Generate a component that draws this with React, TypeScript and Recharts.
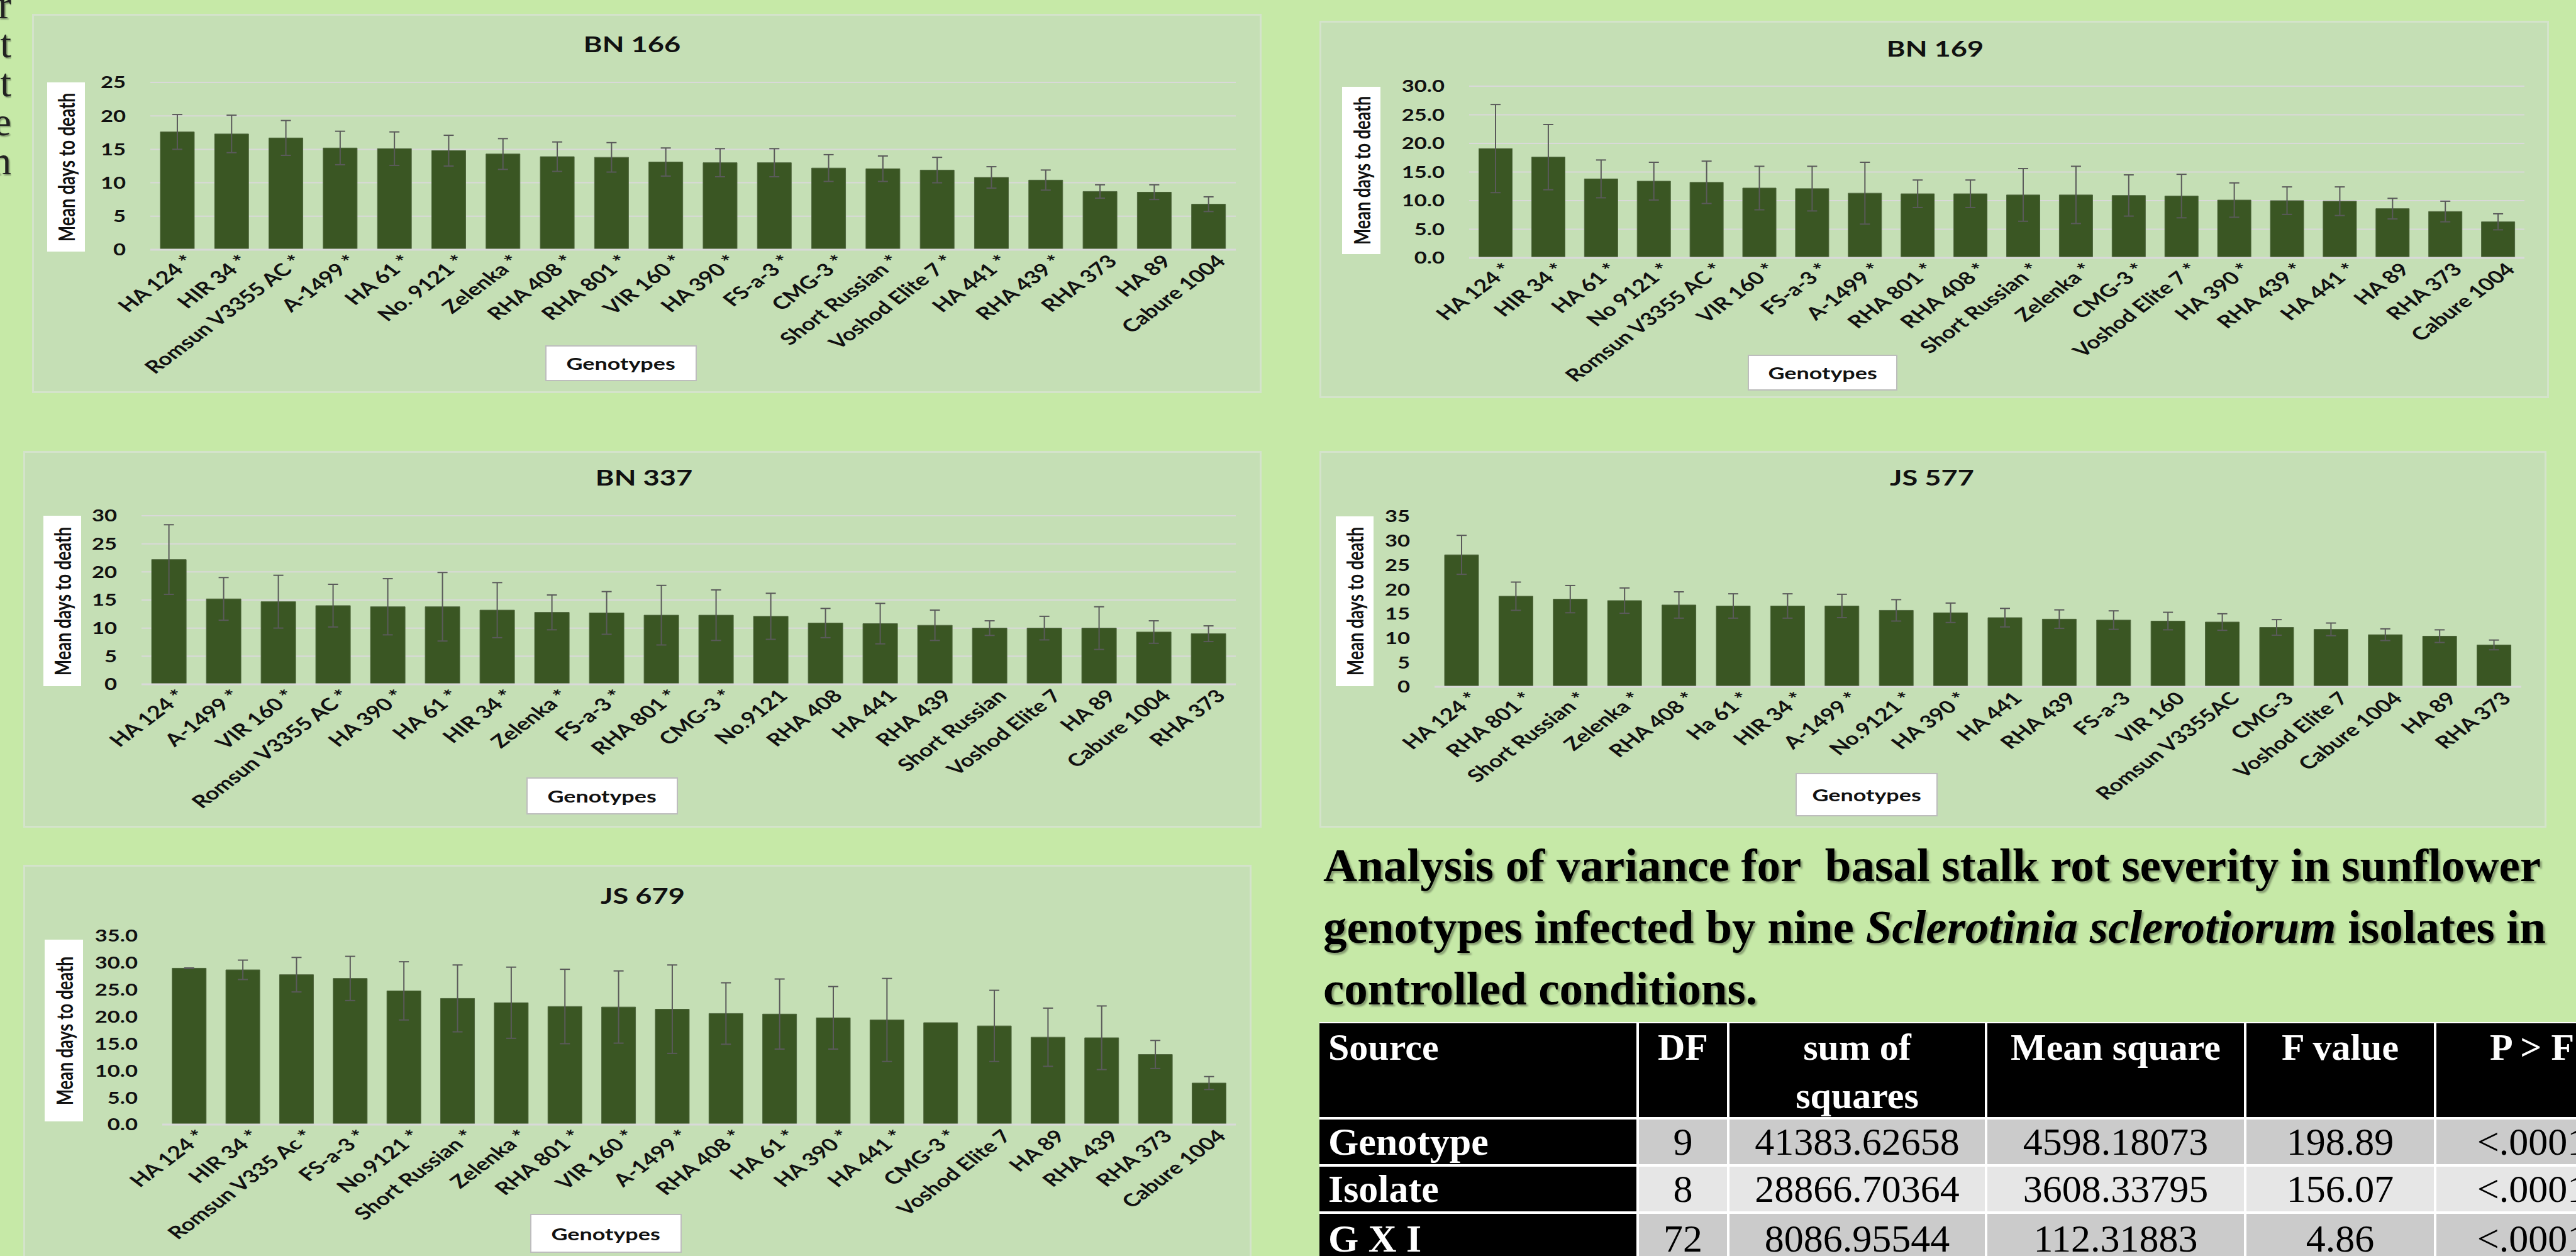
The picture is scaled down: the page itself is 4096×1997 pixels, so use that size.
import React from "react";
import { Bar, BarChart, CartesianGrid, ErrorBar, XAxis, YAxis } from "recharts";

// colours / fonts
const POSTER = "#c6e9a7";
const PANEL = "#c5dfb5";
const BAR = "#3a5623";
const WHISKER = "#5a5a5a";
const GRID = "#d9d9d9";
const SANS = "Lato, 'Noto Sans', sans-serif";
const SERIF = "'Liberation Serif', 'Times New Roman', serif";
// the charts were pasted into the poster stretched sideways
const STRETCH = 1.33;

// ---- BN 166 ----
const bn166Genotypes = ["HA 124 *", "HIR 34 *", "Romsun V3355 AC *", "A-1499 *", "HA 61 *", "No. 9121 *", "Zelenka *", "RHA 408 *", "RHA 801 *", "VIR 160 *", "HA 390 *", "FS-a-3 *", "CMG-3 *", "Short Russian *", "Voshod Elite 7 *", "HA 441 *", "RHA 439 *", "RHA 373", "HA 89", "Cabure 1004"];
const bn166Means = [17.6, 17.3, 16.7, 15.2, 15.1, 14.8, 14.3, 13.9, 13.8, 13.1, 13.0, 13.0, 12.2, 12.1, 11.9, 10.8, 10.4, 8.7, 8.6, 6.8];
const bn166Errors = [2.6, 2.8, 2.6, 2.5, 2.5, 2.3, 2.3, 2.2, 2.2, 2.1, 2.1, 2.1, 2.0, 1.9, 1.9, 1.6, 1.5, 1.0, 1.1, 1.1];
const bn166Ticks = [0, 5, 10, 15, 20, 25];

// ---- BN 169 ----
const bn169Genotypes = ["HA 124 *", "HIR 34 *", "HA 61 *", "No 9121 *", "Romsun V3355 AC *", "VIR 160 *", "FS-a-3 *", "A-1499 *", "RHA 801 *", "RHA 408 *", "Short Russian *", "Zelenka *", "CMG-3 *", "Voshod Elite 7 *", "HA 390 *", "RHA 439 *", "HA 441 *", "HA 89", "RHA 373", "Cabure 1004"];
const bn169Means = [19.1, 17.6, 13.8, 13.4, 13.2, 12.2, 12.1, 11.3, 11.2, 11.2, 11.0, 11.0, 10.9, 10.8, 10.1, 10.0, 9.9, 8.6, 8.1, 6.3];
const bn169Errors = [7.7, 5.7, 3.3, 3.3, 3.7, 3.8, 3.9, 5.4, 2.4, 2.4, 4.6, 5.0, 3.6, 3.8, 3.0, 2.4, 2.5, 1.8, 1.8, 1.4];
const bn169Ticks = [0, 5, 10, 15, 20, 25, 30];

// ---- BN 337 ----
const bn337Genotypes = ["HA 124 *", "A-1499 *", "VIR 160 *", "Romsun V3355 AC *", "HA 390 *", "HA 61 *", "HIR 34 *", "Zelenka *", "FS-a-3 *", "RHA 801 *", "CMG-3 *", "No.9121", "RHA 408", "HA 441", "RHA 439", "Short Russian", "Voshod Elite 7", "HA 89", "Cabure 1004", "RHA 373"];
const bn337Means = [22.2, 15.2, 14.7, 14.0, 13.8, 13.8, 13.2, 12.8, 12.7, 12.3, 12.3, 12.1, 10.9, 10.8, 10.5, 10.0, 10.0, 10.0, 9.3, 9.0];
const bn337Errors = [6.2, 3.8, 4.7, 3.8, 5.0, 6.1, 4.9, 3.1, 3.8, 5.3, 4.5, 4.1, 2.6, 3.6, 2.7, 1.3, 2.1, 3.8, 2.0, 1.4];
const bn337Ticks = [0, 5, 10, 15, 20, 25, 30];

// ---- JS 577 ----
const js577Genotypes = ["HA 124 *", "RHA 801 *", "Short Russian *", "Zelenka *", "RHA 408 *", "Ha 61 *", "HIR 34 *", "A-1499 *", "No.9121 *", "HA 390 *", "HA 441", "RHA 439", "FS-a-3", "VIR 160", "Romsun V3355AC", "CMG-3", "Voshod Elite 7", "Cabure 1004", "HA 89", "RHA 373"];
const js577Means = [27.1, 18.6, 18.0, 17.7, 16.8, 16.6, 16.6, 16.6, 15.7, 15.2, 14.2, 13.9, 13.7, 13.5, 13.3, 12.2, 11.8, 10.7, 10.4, 8.6];
const js577Errors = [4.0, 2.9, 2.8, 2.6, 2.7, 2.5, 2.5, 2.4, 2.2, 2.0, 1.9, 1.9, 1.9, 1.8, 1.7, 1.6, 1.3, 1.2, 1.3, 1.0];
const js577Ticks = [0, 5, 10, 15, 20, 25, 30, 35];

// ---- JS 679 ----
const js679Genotypes = ["HA 124 *", "HIR 34 *", "Romsun V335 Ac *", "FS-a-3 *", "No.9121 *", "Short Russian *", "Zelenka *", "RHA 801 *", "VIR 160 *", "A-1499 *", "RHA 408 *", "HA 61 *", "HA 390 *", "HA 441 *", "CMG-3 *", "Voshod Elite 7", "HA 89", "RHA 439", "RHA 373", "Cabure 1004"];
const js679Means = [29.0, 28.7, 27.8, 27.1, 24.8, 23.4, 22.6, 21.9, 21.8, 21.4, 20.6, 20.5, 19.8, 19.4, 18.9, 18.3, 16.2, 16.1, 13.0, 7.7];
const js679Errors = [0.05, 1.8, 3.2, 4.1, 5.4, 6.2, 6.6, 6.9, 6.7, 8.2, 5.7, 6.5, 5.8, 7.7, null, 6.6, 5.4, 5.9, 2.6, 1.2];
const js679Ticks = [0, 5, 10, 15, 20, 25, 30, 35];

// ---- ANOVA table ----
const anovaHeader = ["Source", "DF", "sum of\nsquares", "Mean square", "F value", "P > F"];
const anovaSources = ["Genotype", "Isolate", "G X I"];
const anovaDF = ["9", "8", "72"];
const anovaSS = ["41383.62658", "28866.70364", "8086.95544"];
const anovaMS = ["4598.18073", "3608.33795", "112.31883"];
const anovaF = ["198.89", "156.07", "4.86"];
const anovaP = ["<.0001", "<.0001", "<.0001"];

const edgeLetters = ["r", "t", "t", "e", "n"];

// ---- layout ----
type Box = { x: number; y: number; w: number; h: number };
interface Layout { panel: Box; plot: Box; title: { x: number; y: number }; yTitle: Box; xTitle: Box }

const bn166Layout: Layout = { panel: { x: 51, y: 22, w: 1955, h: 603 }, plot: { x: 239, y: 131, w: 1726, h: 266 }, title: { x: 1005, y: 71 }, yTitle: { x: 75, y: 131, w: 60, h: 269 }, xTitle: { x: 867, y: 549, w: 241, h: 57 } };
const bn169Layout: Layout = { panel: { x: 2098, y: 33, w: 1955, h: 600 }, plot: { x: 2336, y: 137, w: 1678, h: 273 }, title: { x: 3077, y: 78 }, yTitle: { x: 2134, y: 138, w: 61, h: 266 }, xTitle: { x: 2779, y: 564, w: 238, h: 57 } };
const bn337Layout: Layout = { panel: { x: 37, y: 717, w: 1969, h: 599 }, plot: { x: 225, y: 820, w: 1740, h: 268 }, title: { x: 1024, y: 760 }, yTitle: { x: 69, y: 820, w: 60, h: 271 }, xTitle: { x: 837, y: 1236, w: 241, h: 59 } };
const js577Layout: Layout = { panel: { x: 2098, y: 717, w: 1951, h: 599 }, plot: { x: 2281, y: 821, w: 1728, h: 271 }, title: { x: 3072, y: 760 }, yTitle: { x: 2124, y: 821, w: 60, h: 270 }, xTitle: { x: 2855, y: 1229, w: 226, h: 69 } };
const js679Layout: Layout = { panel: { x: 37, y: 1375, w: 1953, h: 640 }, plot: { x: 258, y: 1488, w: 1707, h: 300 }, title: { x: 1022, y: 1425 }, yTitle: { x: 71, y: 1494, w: 61, h: 289 }, xTitle: { x: 843, y: 1930, w: 241, h: 62 } };

const AXIS_W = 60;
const AXIS_H = 40;

const tableCols = [2098, 2604, 2748, 3158, 3570, 3872, 4180];
const tableRows = [1625, 1778, 1853, 1928, 2010];

const XTick = (props: any) => {
    const { x, y, payload } = props;
    return (
        <g transform={`translate(${x + 10},${y + 6}) scale(${STRETCH},1) rotate(-45)`}>
            <text textAnchor="end" dy="0.72em" fontSize={28} fontWeight={700} fontFamily={SANS} fill="#111">
                {payload.value}
            </text>
        </g>
    );
};

const makeYTick = (decimals: number) => (props: any) => {
    const { x, y, payload } = props;
    return (
        <g transform={`translate(${x},${y}) scale(${STRETCH},1)`}>
            <text textAnchor="end" dy="0.36em" fontSize={26} fontWeight={700} fontFamily={SANS} fill="#111">
                {Number(payload.value).toFixed(decimals)}
            </text>
        </g>
    );
};

interface ChartProps {
    title: string;
    genotypes: string[];
    means: number[];
    errors: (number | null)[];
    ticks: number[];
    decimals: number;
    grid: boolean;
    layout: Layout;
}

const IsolateChart = ({ title, genotypes, means, errors, ticks, decimals, grid, layout }: ChartProps) => {
    const data = genotypes.map((name, i) => ({ name, mean: means[i], err: errors[i] }));
    const { panel, plot, yTitle, xTitle } = layout;
    const margin = {
        top: plot.y - panel.y,
        right: panel.x + panel.w - (plot.x + plot.w),
        bottom: panel.y + panel.h - (plot.y + plot.h) - AXIS_H,
        left: plot.x - panel.x - AXIS_W,
    };

    return (
        <>
            <div style={{ position: "absolute", left: panel.x, top: panel.y, width: panel.w, height: panel.h, background: PANEL, boxShadow: "inset 0 0 0 3px #d4e3cb" }}>
                <BarChart width={panel.w} height={panel.h} data={data} margin={margin} barCategoryGap="18.5%">
                    {grid && <CartesianGrid vertical={false} stroke={GRID} strokeWidth={2} />}
                    <XAxis
                        dataKey="name"
                        height={AXIS_H}
                        interval={0}
                        tickLine={false}
                        tickSize={0}
                        tickMargin={0}
                        axisLine={{ stroke: GRID, strokeWidth: 3 }}
                        tick={XTick}
                    />
                    <YAxis
                        type="number"
                        width={AXIS_W}
                        domain={[0, ticks[ticks.length - 1]]}
                        ticks={ticks}
                        interval={0}
                        tickLine={false}
                        axisLine={false}
                        tickSize={0}
                        tickMargin={39}
                        tick={makeYTick(decimals)}
                    />
                    <Bar dataKey="mean" fill={BAR} stroke="#51683f" strokeWidth={1} isAnimationActive={false}>
                        <ErrorBar dataKey="err" width={8} stroke={WHISKER} strokeWidth={2} direction="y" isAnimationActive={false} />
                    </Bar>
                </BarChart>
            </div>

            {/* chart title */}
            <div style={{ position: "absolute", left: layout.title.x, top: layout.title.y - 21, height: 40, lineHeight: "40px", whiteSpace: "nowrap", fontFamily: SANS, fontWeight: 700, fontSize: 34, color: "#111", transform: `translateX(-50%) scaleX(${STRETCH})` }}>
                {title}
            </div>

            {/* y axis title */}
            <div style={{ position: "absolute", left: yTitle.x, top: yTitle.y, width: yTitle.w, height: yTitle.h, background: "#fff" }}>
                <span style={{ position: "absolute", left: "50%", top: "50%", whiteSpace: "nowrap", lineHeight: 1, fontFamily: SANS, fontWeight: 700, fontSize: 27, color: "#111", transform: `translate(-50%,-50%) scale(${STRETCH},1) rotate(-90deg)` }}>
                    Mean days to death
                </span>
            </div>

            {/* x axis title */}
            <div style={{ position: "absolute", left: xTitle.x, top: xTitle.y, width: xTitle.w, height: xTitle.h, background: "#fff", border: "2px solid #bdbdbd", boxSizing: "border-box", display: "flex", alignItems: "center", justifyContent: "center" }}>
                <span style={{ whiteSpace: "nowrap", fontFamily: SANS, fontWeight: 700, fontSize: 27, color: "#111", transform: `scaleX(${STRETCH})` }}>Genotypes</span>
            </div>
        </>
    );
};

const AnovaTable = () => {
    const body = anovaSources.map((s, i) => [s, anovaDF[i], anovaSS[i], anovaMS[i], anovaF[i], anovaP[i]]);
    const fills = ["#cbcbcb", "#e6e6e6", "#cbcbcb"];
    const cells: React.ReactNode[] = [];
    const gap = 2;

    anovaHeader.forEach((h, c) => {
        cells.push(
            <div key={`h${c}`} style={{ position: "absolute", left: tableCols[c] + (c ? gap : 0), top: tableRows[0] + gap, width: tableCols[c + 1] - tableCols[c] - (c ? 2 * gap : gap), height: tableRows[1] - tableRows[0] - 2 * gap, background: "#000", color: "#fff", fontFamily: SERIF, fontWeight: 700, fontSize: 60, lineHeight: "77px", whiteSpace: "pre-line", textAlign: c ? "center" : "left", paddingLeft: c ? 0 : 14, boxSizing: "border-box" }}>
                {h}
            </div>
        );
    });

    body.forEach((row, r) => {
        row.forEach((v, c) => {
            const top = tableRows[r + 1] + gap;
            const height = tableRows[r + 2] - tableRows[r + 1] - 2 * gap;
            cells.push(
                <div key={`r${r}c${c}`} style={{ position: "absolute", left: tableCols[c] + (c ? gap : 0), top, width: tableCols[c + 1] - tableCols[c] - (c ? 2 * gap : gap), height, background: c ? fills[r] : "#000", color: c ? "#000" : "#fff", fontFamily: SERIF, fontWeight: c ? 400 : 700, fontSize: 62, lineHeight: `${height}px`, whiteSpace: "nowrap", textAlign: c ? "center" : "left", paddingLeft: c ? 0 : 14, boxSizing: "border-box", overflow: "hidden" }}>
                    {v}
                </div>
            );
        });
    });

    return (
        <>
            <div style={{ position: "absolute", left: tableCols[0], top: tableRows[0], width: tableCols[6] - tableCols[0], height: tableRows[4] - tableRows[0], background: "#fff" }} />
            {cells}
        </>
    );
};

const App = () => {
    return (
        <div style={{ position: "fixed", left: 0, top: 0, width: 4096, height: 1997, overflow: "hidden", background: POSTER }}>
            {/* clipped ends of a neighbouring text column */}
            <div style={{ position: "absolute", left: 0, top: 0, width: 18, height: 330, overflow: "hidden" }}>
                {edgeLetters.map((ch, i) => (
                    <div key={i} style={{ position: "absolute", right: 0, top: -22 + i * 62, fontFamily: SERIF, fontSize: 64, lineHeight: "60px", color: "#222", textShadow: "2px 2px 2px rgba(0,0,0,0.35)" }}>{ch}</div>
                ))}
            </div>

            <IsolateChart title="BN 166" genotypes={bn166Genotypes} means={bn166Means} errors={bn166Errors} ticks={bn166Ticks} decimals={0} grid layout={bn166Layout} />
            <IsolateChart title="BN 169" genotypes={bn169Genotypes} means={bn169Means} errors={bn169Errors} ticks={bn169Ticks} decimals={1} grid layout={bn169Layout} />
            <IsolateChart title="BN 337" genotypes={bn337Genotypes} means={bn337Means} errors={bn337Errors} ticks={bn337Ticks} decimals={0} grid layout={bn337Layout} />
            <IsolateChart title="JS 577" genotypes={js577Genotypes} means={js577Means} errors={js577Errors} ticks={js577Ticks} decimals={0} grid={false} layout={js577Layout} />
            <IsolateChart title="JS 679" genotypes={js679Genotypes} means={js679Means} errors={js679Errors} ticks={js679Ticks} decimals={1} grid={false} layout={js679Layout} />

            {/* ANOVA heading */}
            <div style={{ position: "absolute", left: 2104, top: 1327, fontFamily: SERIF, fontWeight: 700, fontSize: 75, lineHeight: "98px", color: "#000", whiteSpace: "nowrap", textShadow: "3px 3px 3px rgba(0,0,0,0.35)" }}>
                <div>Analysis of variance for&nbsp; basal stalk rot severity in sunflower</div>
                <div>genotypes infected by nine <i>Sclerotinia sclerotiorum</i> isolates in</div>
                <div>controlled conditions.</div>
            </div>

            <AnovaTable />
        </div>
    );
};

export default App;
